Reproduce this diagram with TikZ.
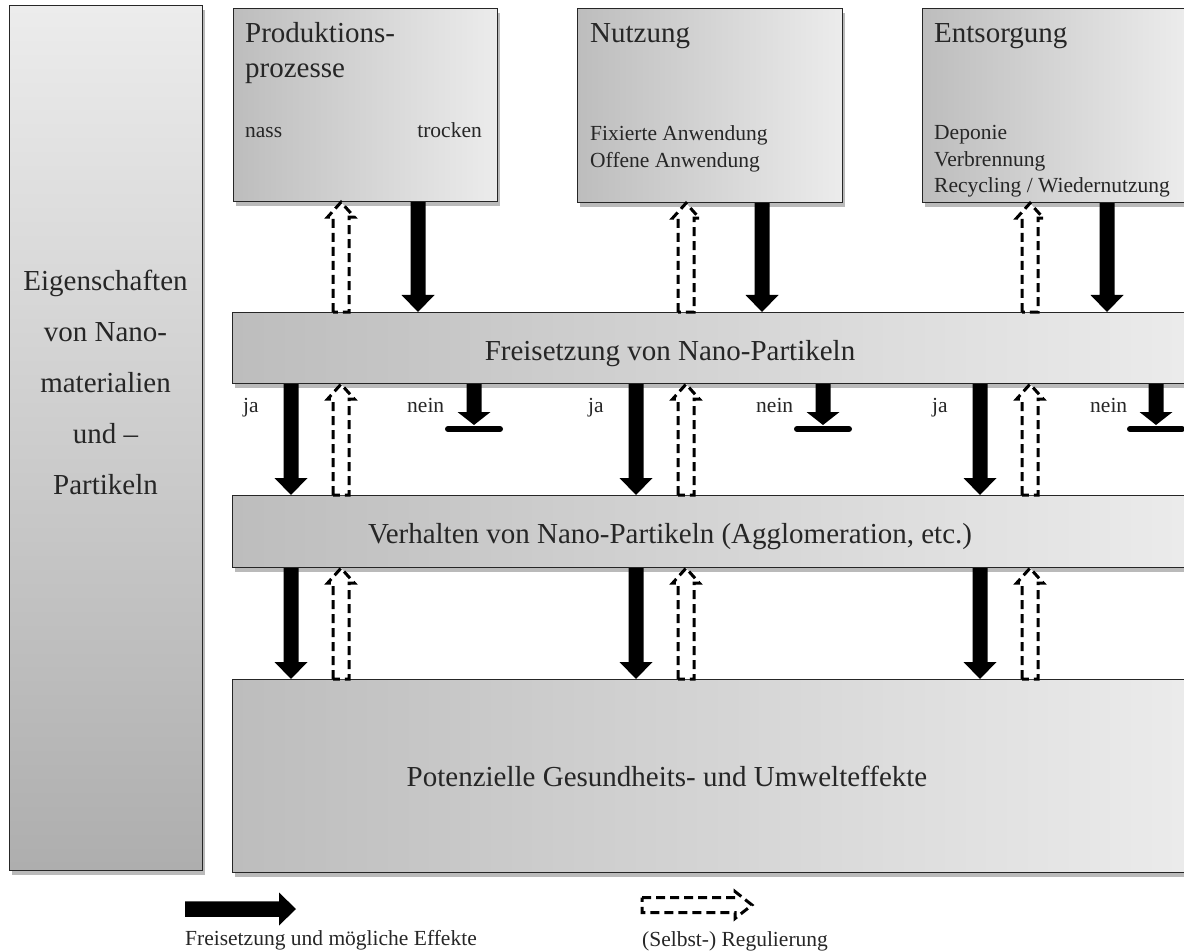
\documentclass[tikz,border=0pt]{standalone}
\usepackage{fontspec}
\setmainfont{Liberation Serif}
\usetikzlibrary{calc,shadows}

\definecolor{boxdunkel}{HTML}{BDBDBD}
\definecolor{boxhell}{HTML}{ECECEC}
\definecolor{schrift}{HTML}{262626}

% Blockpfeil: Stil, Ende, Spitze, halbe Schaftbreite, halbe Kopfbreite, Kopflaenge
\newcommand{\pfeil}[6]{%
  \coordinate (hb) at ($(#3)!#6!(#2)$);
  \path[#1] ($(#2)!#4!90:(#3)$) -- ($(hb)!#4!90:(#3)$) -- ($(hb)!#5!90:(#3)$)
    -- (#3) -- ($(hb)!#5!-90:(#3)$) -- ($(hb)!#4!-90:(#3)$) -- ($(#2)!#4!-90:(#3)$) -- cycle;}

\tikzset{
  kasten/.style={draw=black!85, line width=1.2pt, anchor=north west, inner sep=0pt,
    drop shadow={shadow xshift=2pt, shadow yshift=-4pt, opacity=0.6, fill=black!45}},
  hkasten/.style={kasten, left color=boxdunkel, right color=boxhell},
  vkasten/.style={kasten, top color=boxhell, bottom color=boxdunkel!92!black},
  gross/.style={font=\fontsize{29}{35}\selectfont, text=schrift, inner sep=0pt},
  klein/.style={font=\fontsize{21.5}{27}\selectfont, text=schrift, inner sep=0pt},
  flow/.style={fill=black},
  reg/.style={draw=black, fill=white, line width=3pt, dash pattern=on 9pt off 5pt},
  sperre/.style={line width=6pt, line cap=round},
}

\begin{document}
\begin{tikzpicture}[x=1pt, y=-1pt]
  \clip (0,0) rectangle (1184,952);

  % Kaesten
  \node[vkasten, minimum width=193pt, minimum height=865pt] (eigen) at (9,5) {};
  \node[hkasten, minimum width=264pt, minimum height=193pt] (prod) at (233,8) {};
  \node[hkasten, minimum width=265pt, minimum height=194pt] (nutz) at (577,8) {};
  \node[hkasten, minimum width=262pt, minimum height=194pt] (ents) at (922,8) {};
  \node[hkasten, minimum width=970pt, minimum height=71pt] (frei) at (232,312) {};
  \node[hkasten, minimum width=970pt, minimum height=72pt] (verh) at (232,495) {};
  \node[hkasten, minimum width=970pt, minimum height=193pt] (pot) at (232,679) {};

  % Texte
  \node[gross, font=\fontsize{29}{51}\selectfont, align=center, anchor=north] (eigentext) at (105.5,270)
    {Eigenschaften\\von Nano-\\materialien\\und –\\Partikeln};
  \node[gross, align=left, anchor=north west] (prodtitel) at (245,22) {Produktions-\\prozesse};
  \node[klein, anchor=base west] (nass) at (245,138) {nass};
  \node[klein, anchor=base east] (trocken) at (482,138) {trocken};
  \node[gross, anchor=base west] (nutztitel) at (590,43) {Nutzung};
  \node[klein, align=left, anchor=north west] (nutztext) at (590,125.3) {Fixierte Anwendung\\Offene Anwendung};
  \node[gross, anchor=base west] (entstitel) at (934,43) {Entsorgung};
  \node[klein, font=\fontsize{21.5}{26.5}\selectfont, align=left, anchor=north west] (entstext) at (934,125.3)
    {Deponie\\Verbrennung\\Recycling / Wiedernutzung};
  \node[gross, anchor=base] (freitext) at (670,360) {Freisetzung von Nano-Partikeln};
  \node[gross, anchor=base] (verhtext) at (670,543) {Verhalten von Nano-Partikeln (Agglomeration, etc.)};
  \node[gross, anchor=base] (pottext) at (667,786) {Potenzielle Gesundheits- und Umwelteffekte};
  \foreach \x [count=\i] in {243,588,932}
    \node[klein, anchor=base west] (ja\i) at (\x,412) {ja};
  \foreach \x [count=\i] in {407,756,1090}
    \node[klein, anchor=base west] (nein\i) at (\x,412) {nein};

  % Pfeile oben
  \foreach \x/\k in {341/prod,686/nutz,1030/ents} {
    \coordinate (a) at (\x,0 |- frei.north);
    \coordinate (b) at (\x,0 |- \k.south);
    \pfeil{reg}{a}{b}{8pt}{13.5pt}{15pt}
  }
  \foreach \x/\k in {418/prod,762/nutz,1107/ents} {
    \coordinate (a) at (\x,0 |- \k.south);
    \coordinate (b) at (\x,0 |- frei.north);
    \pfeil{flow}{a}{b}{7.5pt}{16.5pt}{17pt}
  }

  % Pfeile Mitte und unten
  \foreach \x in {291,636,980} {
    \coordinate (a) at (\x,0 |- frei.south);
    \coordinate (b) at (\x,0 |- verh.north);
    \pfeil{flow}{a}{b}{7.5pt}{16.5pt}{17pt}
    \coordinate (a) at (\x,0 |- verh.south);
    \coordinate (b) at (\x,0 |- pot.north);
    \pfeil{flow}{a}{b}{7.5pt}{16.5pt}{17pt}
  }
  \foreach \x in {341,686,1030} {
    \coordinate (a) at (\x,0 |- verh.north);
    \coordinate (b) at (\x,0 |- frei.south);
    \pfeil{reg}{a}{b}{8pt}{13.5pt}{15pt}
    \coordinate (a) at (\x,0 |- pot.north);
    \coordinate (b) at (\x,0 |- verh.south);
    \pfeil{reg}{a}{b}{8pt}{13.5pt}{15pt}
  }
  \foreach \x in {474,823,1156} {
    \coordinate (a) at (\x,0 |- frei.south);
    \coordinate (b) at (\x,425);
    \pfeil{flow}{a}{b}{7.5pt}{16.5pt}{13pt}
    \draw[sperre] ([xshift=-26pt,yshift=-4pt]b) -- ([xshift=26pt,yshift=-4pt]b);
  }

  % Legende
  \coordinate (l1a) at (185,909);
  \coordinate (l1b) at (296,909);
  \pfeil{flow}{l1a}{l1b}{7.75pt}{16.5pt}{17pt}
  \node[klein, anchor=base west] (l1text) at (185,945) {Freisetzung und mögliche Effekte};
  \coordinate (l2a) at (642,905);
  \coordinate (l2b) at (752,905);
  \pfeil{reg}{l2a}{l2b}{7.5pt}{13.5pt}{17pt}
  \node[klein, anchor=base west] (l2text) at (642,946) {(Selbst-) Regulierung};
\end{tikzpicture}
\end{document}
